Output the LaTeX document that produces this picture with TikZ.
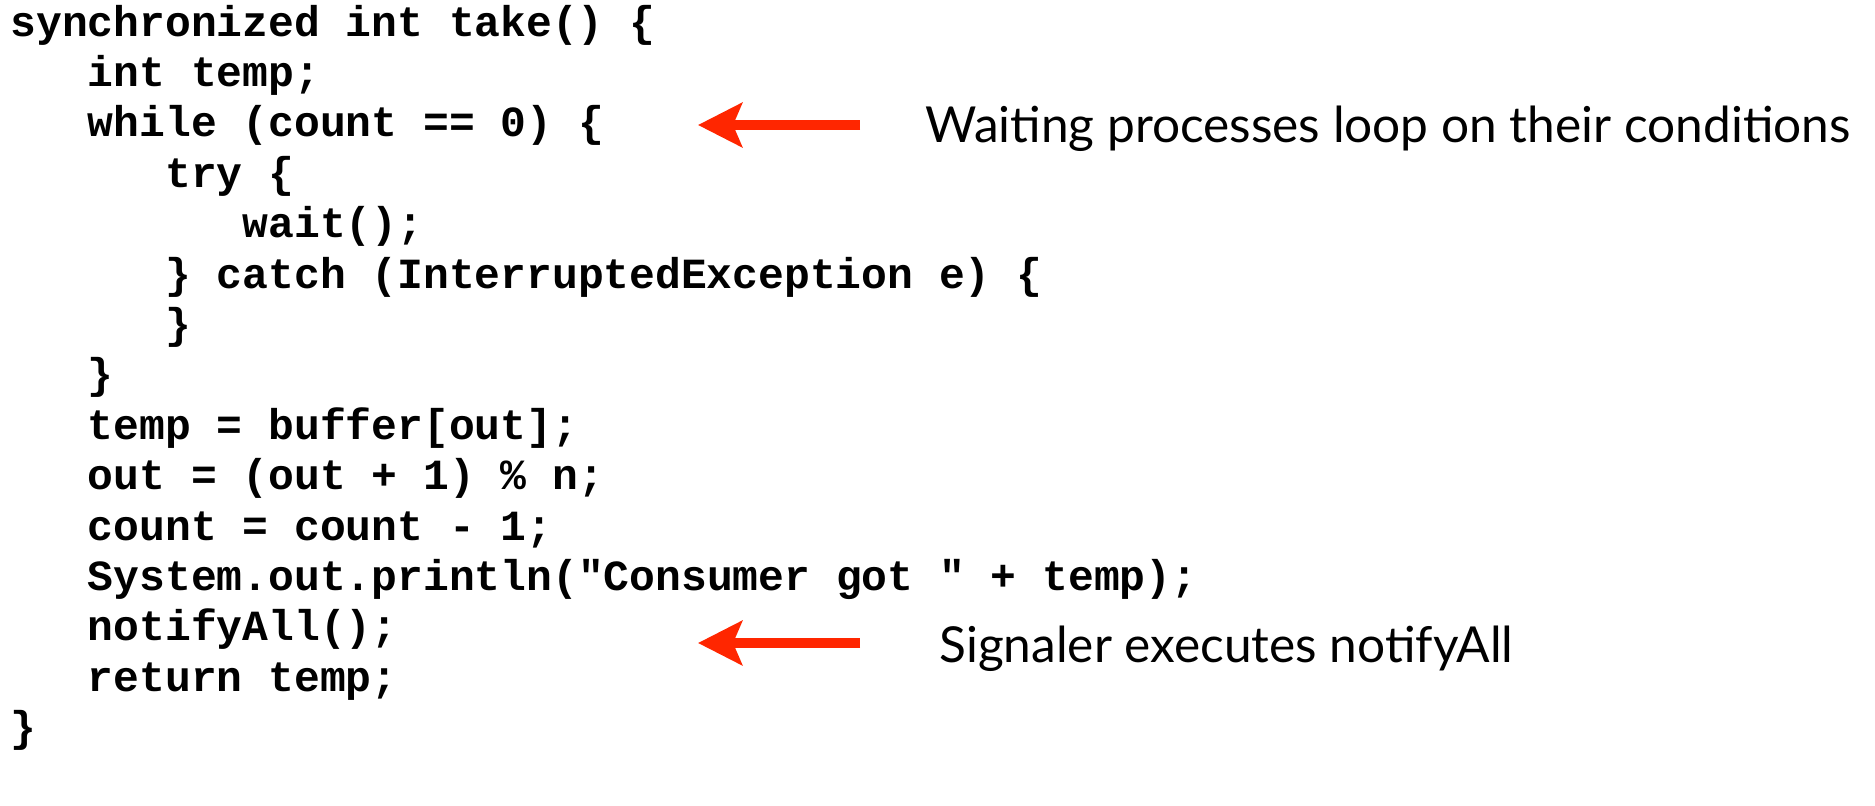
\documentclass[tikz,border=0pt]{standalone}
\usepackage{fontspec}
\setmonofont{Liberation Mono}
\newfontfamily\notefont{Lato}
\usetikzlibrary{arrows.meta}
\definecolor{arrowred}{RGB}{255,38,0}
\tikzset{
  codeline/.style={anchor=base west, inner sep=0pt,
    font=\ttfamily\bfseries\fontsize{21.5}{25.4}\selectfont},
  note/.style={anchor=base west, inner sep=0pt,
    font=\notefont\fontsize{24.8}{29}\selectfont},
  pointer/.style={draw=arrowred, line width=5pt,
    -{Stealth[length=22pt, width=22pt, inset=4.5pt, fill=arrowred]}}
}
\begin{document}
\begin{tikzpicture}[x=0.5pt, y=-0.5pt]
\useasboundingbox (0,0) rectangle (1875,805);
% the take() method, one node per source line
\node[codeline] (l1)  at (10,36)      {synchronized int take() \{};
\node[codeline] (l2)  at (87.4,86.4)  {int temp;};
\node[codeline] (l3)  at (87.4,136.8) {while (count == 0) \{};
\node[codeline] (l4)  at (164.8,187.2){try \{};
\node[codeline] (l5)  at (242.2,237.6){wait();};
\node[codeline] (l6)  at (164.8,288)  {\} catch (InterruptedException e) \{};
\node[codeline] (l7)  at (164.8,338.4){\}};
\node[codeline] (l8)  at (87.4,388.8) {\}};
\node[codeline] (l9)  at (87.4,439.2) {temp = buffer[out];};
\node[codeline] (l10) at (87.4,489.6) {out = (out + 1) \% n;};
\node[codeline] (l11) at (87.4,540)   {count = count - 1;};
\node[codeline] (l12) at (87.4,590.4) {System.out.println("Consumer got " + temp);};
\node[codeline] (l13) at (87.4,640.8) {notifyAll();};
\node[codeline] (l14) at (87.4,691.2) {return temp;};
\node[codeline] (l15) at (10,741.6)   {\}};
% annotations
\node[note] (n1) at (925,142) {Waiting processes loop on their conditions};
\node[note] (n2) at (939,662) {Signaler executes notifyAll};
% arrows pointing back at the code
\coordinate (t1) at (860,125);
\coordinate (h1) at (698,125);
\coordinate (t2) at (860,643);
\coordinate (h2) at (698,643);
\draw[pointer] (t1) -- (h1);
\draw[pointer] (t2) -- (h2);
\end{tikzpicture}
\end{document}
